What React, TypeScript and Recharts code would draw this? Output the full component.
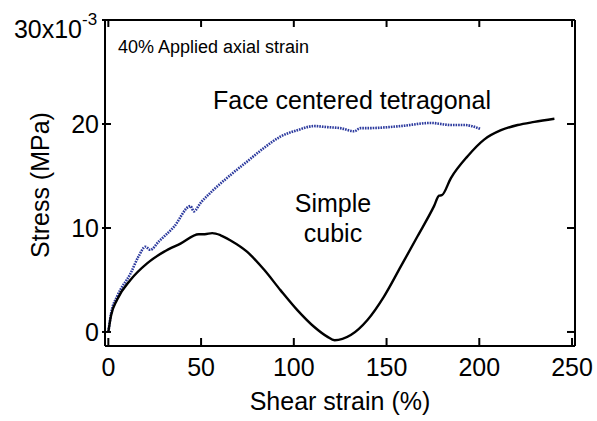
import { LineChart, Line, XAxis, YAxis } from "recharts";

// simple cubic (black solid)
const scStrain = [0, 1.5, 4.7, 11.9, 20.9, 29.9, 38.9, 48.8, 52, 56, 60.5, 65.9, 74.9, 83.9, 92.9, 101.9, 110.9, 118, 122, 130.7, 139.7, 148.6, 157.7, 166.7, 175.6, 178.3, 179.8, 184.7, 193.7, 202.6, 211.7, 220.7, 229.7, 240.5];
const scStress = [0, 1.6, 3.1, 5.0, 6.6, 7.7, 8.5, 9.4, 9.4, 9.5, 9.3, 8.8, 7.7, 6.0, 4.0, 2.1, 0.5, -0.45, -0.8, -0.3, 1.15, 3.4, 6.3, 9.2, 12.1, 13.1, 13.15, 14.8, 16.9, 18.5, 19.4, 19.9, 20.2, 20.5];

// face centered tetragonal (blue dotted)
const fctStrain = [0, 1.5, 4.7, 11.9, 16.4, 20, 22.6, 27.2, 35.3, 44.3, 46.1, 49.7, 56.9, 65.9, 74.9, 83.9, 92.9, 101.9, 110.9, 118, 125, 132.5, 136, 139.7, 157.7, 173.9, 184.7, 192, 200.9];
const fctStress = [0, 1.8, 3.4, 5.6, 7.3, 8.2, 7.9, 8.7, 10.1, 12.1, 11.6, 12.4, 13.7, 15.1, 16.4, 17.7, 18.8, 19.4, 19.8, 19.7, 19.6, 19.3, 19.6, 19.6, 19.8, 20.1, 19.9, 19.9, 19.5];

const xTicks = [0, 50, 100, 150, 200, 250];
const yTicks = [0, 10, 20, 30];

const scData = scStrain.map((x, i) => ({ x, y: scStress[i] }));
const fctData = fctStrain.map((x, i) => ({ x, y: fctStress[i] }));

const FONT = "'Liberation Sans', Arial, sans-serif";
const X_DOMAIN = [-1.8, 251.6];
const Y_DOMAIN = [-1.35, 30];

const BottomTick = ({ x, y, payload }: any) => (
  <g>
    <line x1={x} y1={y} x2={x} y2={y - 8} stroke="#000" strokeWidth={2} />
    <text x={x} y={y + 30} textAnchor="middle" fontSize={25} fontFamily={FONT} fill="#000">
      {payload.value}
    </text>
  </g>
);

const TopTick = ({ x, y }: any) => (
  <line x1={x} y1={y} x2={x} y2={y + 7} stroke="#000" strokeWidth={2} />
);

const RightTick = ({ x, y }: any) => (
  <line x1={x} y1={y} x2={x - 8} y2={y} stroke="#000" strokeWidth={2} />
);

const LeftTick = ({ x, y, payload }: any) => {
  if (payload.value === 30) {
    return (
      <g>
        <line x1={x - 3} y1={y} x2={x + 6} y2={y} stroke="#000" strokeWidth={2} />
        <text x={x - 23} y={y + 18} textAnchor="end" fontSize={25} fontFamily={FONT} fill="#000">
          30x10
        </text>
        <text x={x - 23} y={y + 5} textAnchor="start" fontSize={17} fontFamily={FONT} fill="#000">
          -3
        </text>
      </g>
    );
  }
  return (
    <g>
      <line x1={x - 3} y1={y} x2={x + 6} y2={y} stroke="#000" strokeWidth={2} />
      <text x={x - 6} y={y + 9} textAnchor="end" fontSize={25} fontFamily={FONT} fill="#000">
        {payload.value}
      </text>
    </g>
  );
};

export default function App() {
  return (
    <div style={{ width: 597, height: 421, background: "#fff" }}>
      <style>{"body{margin:0}"}</style>
      <LineChart width={597} height={421} margin={{ top: 19, right: 21, left: 0, bottom: 0 }}>
        <XAxis
          dataKey="x"
          type="number"
          domain={X_DOMAIN}
          ticks={xTicks}
          interval={0}
          allowDataOverflow
          height={75}
          tickSize={0}
          tickMargin={0}
          tickLine={false}
          axisLine={{ stroke: "#000", strokeWidth: 2 }}
          tick={<BottomTick />}
          label={{ value: "Shear strain (%)", position: "insideBottom", offset: 11, fontSize: 25, fontFamily: FONT, fill: "#000" }}
        />
        <XAxis
          xAxisId="top"
          dataKey="x"
          type="number"
          orientation="top"
          domain={X_DOMAIN}
          ticks={xTicks}
          interval={0}
          allowDataOverflow
          height={1}
          tickSize={0}
          tickMargin={0}
          tickLine={false}
          axisLine={{ stroke: "#000", strokeWidth: 2 }}
          tick={<TopTick />}
        />
        <YAxis
          type="number"
          domain={Y_DOMAIN}
          ticks={yTicks}
          interval={0}
          allowDataOverflow
          width={105}
          tickSize={0}
          tickMargin={0}
          tickLine={false}
          axisLine={{ stroke: "#000", strokeWidth: 2 }}
          tick={<LeftTick />}
        />
        <YAxis
          yAxisId="right"
          type="number"
          orientation="right"
          domain={Y_DOMAIN}
          ticks={yTicks}
          interval={0}
          allowDataOverflow
          width={1}
          tickSize={0}
          tickMargin={0}
          tickLine={false}
          axisLine={{ stroke: "#000", strokeWidth: 2 }}
          tick={<RightTick />}
        />
        <Line
          data={fctData}
          dataKey="y"
          type="monotone"
          stroke="#2c3a9e"
          strokeWidth={2.6}
          strokeDasharray="1.6 1"
          dot={false}
          isAnimationActive={false}
        />
        {/* same domains as the main axes, so the black curve can drive the mirror axes */}
        <Line
          data={scData}
          xAxisId="top"
          yAxisId="right"
          dataKey="y"
          type="monotone"
          stroke="#000"
          strokeWidth={2.4}
          dot={false}
          isAnimationActive={false}
        />
        <text
          x={49}
          y={185}
          transform="rotate(-90, 49, 185)"
          textAnchor="middle"
          fontSize={25}
          fontFamily={FONT}
          fill="#000"
        >
          Stress (MPa)
        </text>
        <text x={118} y={53} fontSize={18} fontFamily={FONT} fill="#000">
          40% Applied axial strain
        </text>
        <text x={213} y={109} fontSize={25} fontFamily={FONT} fill="#000">
          Face centered tetragonal
        </text>
        <text x={333} y={212} fontSize={25} fontFamily={FONT} fill="#000" textAnchor="middle">
          Simple
        </text>
        <text x={333} y={242} fontSize={25} fontFamily={FONT} fill="#000" textAnchor="middle">
          cubic
        </text>
      </LineChart>
    </div>
  );
}
